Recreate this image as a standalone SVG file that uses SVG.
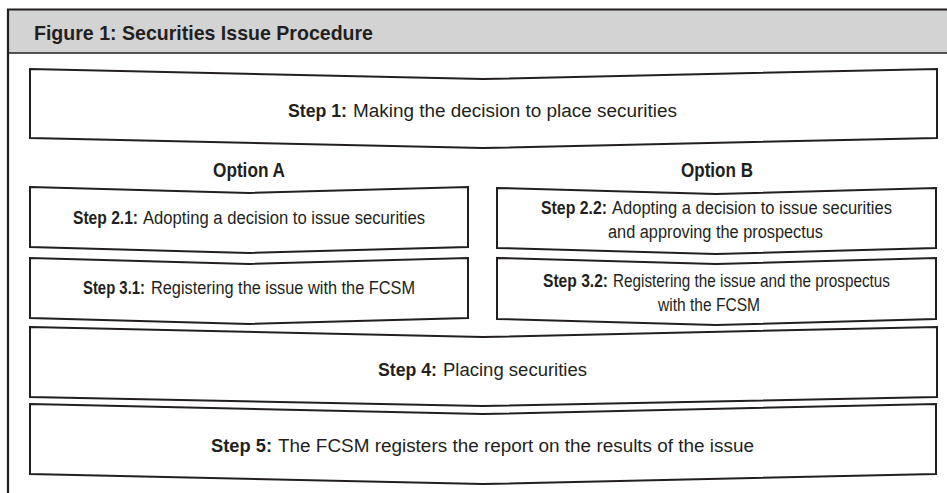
<svg xmlns="http://www.w3.org/2000/svg" width="947" height="493" viewBox="0 0 947 493">
<style>
  .frame { fill: none; stroke: #231f20; stroke-width: 2.2; }
  .box { fill: #ffffff; stroke: #231f20; stroke-width: 2; stroke-linejoin: miter; }
  text { font-family: "Liberation Sans", Arial, sans-serif; fill: #231f20; }
  .title { font-size: 21px; font-weight: bold; }
  .opt { font-size: 21px; font-weight: bold; text-anchor: middle; }
  .s { font-size: 19px; }
  .b { font-size: 19px; font-weight: bold; }
</style>
<rect x="0" y="0" width="947" height="493" fill="#ffffff"/>
<g id="frame">
  <rect x="8" y="9.5" width="945" height="43.5" fill="#d3d3d4"/>
  <path class="frame" d="M8,493 V9.5 H947"/>
  <path d="M8,53 H947" stroke="#231f20" stroke-width="1.6" fill="none"/>
  <text class="title" x="34" y="40" textLength="339" lengthAdjust="spacingAndGlyphs">Figure 1: Securities Issue Procedure</text>
</g>
<g id="connectors"></g>
<g id="step1">
  <path class="box" d="M30,69 L483,79 L937,69 L937,138 L483,148 L30,138 Z"/>
  <text class="b" transform="translate(288,117) scale(0.82,1)" textLength="71.95" lengthAdjust="spacingAndGlyphs">Step 1:</text>
  <text class="s" transform="translate(353,117) scale(0.82,1)" textLength="395.1" lengthAdjust="spacingAndGlyphs">Making the decision to place securities</text>
</g>
<g id="optionA">
  <text class="opt" x="249" y="177" textLength="72" lengthAdjust="spacingAndGlyphs">Option A</text>
</g>
<g id="optionB">
  <text class="opt" x="717" y="177" textLength="72" lengthAdjust="spacingAndGlyphs">Option B</text>
</g>
<g id="step2_1">
  <path class="box" d="M30,187 L249,193 L468,187 L468,247 L249,253 L30,247 Z"/>
  <text class="b" transform="translate(73,224) scale(0.82,1)" textLength="79.27" lengthAdjust="spacingAndGlyphs">Step 2.1:</text>
  <text class="s" transform="translate(143,224) scale(0.82,1)" textLength="343.9" lengthAdjust="spacingAndGlyphs">Adopting a decision to issue securities</text>
</g>
<g id="step3_1">
  <path class="box" d="M30,258 L249,264 L468,258 L468,318 L249,324 L30,318 Z"/>
  <text class="b" transform="translate(83,294) scale(0.82,1)" textLength="75.61" lengthAdjust="spacingAndGlyphs">Step 3.1:</text>
  <text class="s" transform="translate(151,294) scale(0.82,1)" textLength="321.95" lengthAdjust="spacingAndGlyphs">Registering the issue with the FCSM</text>
</g>
<g id="step2_2">
  <path class="box" d="M497,188 L716,194 L936,188 L936,248 L716,254 L497,248 Z"/>
  <text class="b" transform="translate(541,214) scale(0.82,1)" textLength="80.49" lengthAdjust="spacingAndGlyphs">Step 2.2:</text>
  <text class="s" transform="translate(612,214) scale(0.82,1)" textLength="341.46" lengthAdjust="spacingAndGlyphs">Adopting a decision to issue securities</text>
  <text class="s" transform="translate(608,238) scale(0.82,1)" textLength="262.2" lengthAdjust="spacingAndGlyphs">and approving the prospectus</text>
</g>
<g id="step3_2">
  <path class="box" d="M497,258 L716,264 L936,258 L936,319 L716,325 L497,319 Z"/>
  <text class="b" transform="translate(543,287) scale(0.82,1)" textLength="79.27" lengthAdjust="spacingAndGlyphs">Step 3.2:</text>
  <text class="s" transform="translate(613,287) scale(0.82,1)" textLength="337.8" lengthAdjust="spacingAndGlyphs">Registering the issue and the prospectus</text>
  <text class="s" transform="translate(658,311) scale(0.82,1)" textLength="124.39" lengthAdjust="spacingAndGlyphs">with the FCSM</text>
</g>
<g id="step4">
  <path class="box" d="M30,327 L483,337 L937,327 L937,397 L483,406 L30,397 Z"/>
  <text class="b" transform="translate(378,376) scale(0.82,1)" textLength="71.95" lengthAdjust="spacingAndGlyphs">Step 4:</text>
  <text class="s" transform="translate(443,376) scale(0.82,1)" textLength="175.6" lengthAdjust="spacingAndGlyphs">Placing securities</text>
</g>
<g id="step5">
  <path class="box" d="M30,404 L483,414 L936,404 L936,474 L483,484 L30,474 Z"/>
  <text class="b" transform="translate(211,452) scale(0.82,1)" textLength="74.39" lengthAdjust="spacingAndGlyphs">Step 5:</text>
  <text class="s" transform="translate(278,452) scale(0.82,1)" textLength="580.5" lengthAdjust="spacingAndGlyphs">The FCSM registers the report on the results of the issue</text>
</g>
</svg>
